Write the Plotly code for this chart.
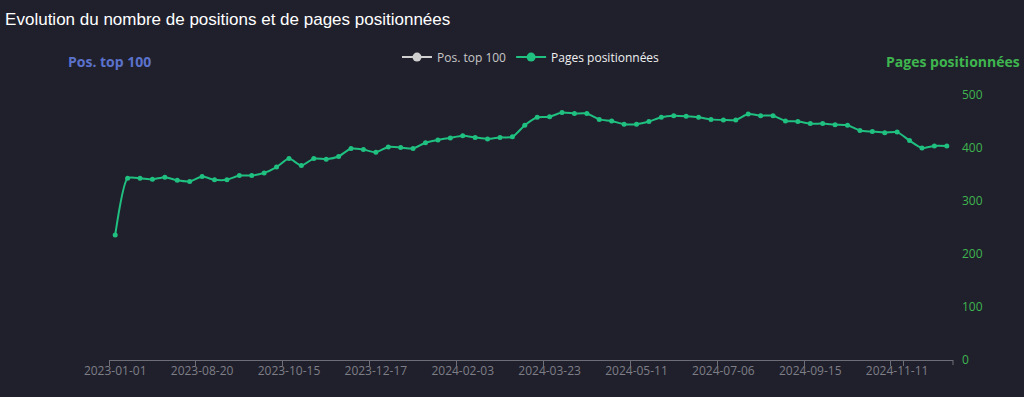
import plotly.graph_objects as go

dates = [
    "2023-01-01", "2023-07-09", "2023-07-16", "2023-07-23", "2023-07-30", "2023-08-06", "2023-08-13",
    "2023-08-20", "2023-08-27", "2023-09-03", "2023-09-10", "2023-09-17", "2023-09-24", "2023-10-08",
    "2023-10-15", "2023-10-22", "2023-10-29", "2023-11-05", "2023-11-19", "2023-11-26", "2023-12-10",
    "2023-12-17", "2023-12-24", "2023-12-31", "2024-01-07", "2024-01-14", "2024-01-21", "2024-01-28",
    "2024-02-03", "2024-02-10", "2024-02-17", "2024-02-24", "2024-03-02", "2024-03-09", "2024-03-16",
    "2024-03-23", "2024-03-30", "2024-04-06", "2024-04-13", "2024-04-20", "2024-04-27", "2024-05-04",
    "2024-05-11", "2024-05-18", "2024-05-25", "2024-06-01", "2024-06-08", "2024-06-15", "2024-06-29",
    "2024-07-06", "2024-07-13", "2024-07-20", "2024-08-03", "2024-08-17", "2024-08-31", "2024-09-08",
    "2024-09-15", "2024-09-22", "2024-09-29", "2024-10-06", "2024-10-13", "2024-10-27", "2024-11-03",
    "2024-11-11", "2024-11-18", "2024-11-25", "2024-12-02", "2024-12-09",
]

pages = [
    236, 343, 343, 341, 345, 339, 337,
    346, 340, 340, 348, 348, 353, 364,
    380, 367, 380, 379, 384, 399, 397,
    392, 402, 401, 399, 410, 415, 419,
    423, 420, 417, 420, 421, 443, 458,
    459, 467, 465, 465, 454, 451, 445,
    445, 450, 458, 461, 460, 458, 454,
    453, 453, 464, 461, 461, 451, 450,
    446, 446, 444, 443, 433, 431, 429,
    430, 414, 400, 404, 404,
]

pos_top100 = [None] * len(dates)

tick_labels = ["2023-01-01", "2023-08-20", "2023-10-15", "2023-12-17", "2024-02-03",
               "2024-03-23", "2024-05-11", "2024-07-06", "2024-09-15", "2024-11-11"]

BG = "#20202c"
GREEN = "#1fc080"
AXGREEN = "#3fb54f"
BLUE = "#5b72cc"

fig = go.Figure()

fig.add_trace(go.Scatter(
    x=dates, y=pos_top100, mode="lines+markers", yaxis="y",
    line=dict(color="#cfcfcf", width=2), marker=dict(size=9, color="#cfcfcf"),
    name="<span style='color:#c8c8c8'>Pos. top 100</span>", showlegend=True,
))
fig.add_trace(go.Scatter(
    x=dates, y=pages, mode="lines+markers", yaxis="y2",
    line=dict(color=GREEN, width=2, shape="spline", smoothing=0.6),
    marker=dict(size=5, color=GREEN),
    name="Pages positionnées", showlegend=False,
))
fig.add_trace(go.Scatter(
    x=[dates[0]], y=[None], mode="lines+markers", yaxis="y2",
    line=dict(color=GREEN, width=2), marker=dict(size=9, color=GREEN),
    name="<span style='color:#f0f0f0'>Pages positionnées</span>", showlegend=True,
))

fig.update_layout(
    width=1024, height=397,
    paper_bgcolor=BG, plot_bgcolor=BG,
    margin=dict(l=109, r=71, t=95, b=37),
    title=dict(text="Evolution du nombre de positions et de pages positionnées",
               x=0.005, xanchor="left", y=0.953, yanchor="middle",
               font=dict(family="Liberation Sans, Arial", size=17, color="#ffffff")),
    font=dict(family="Open Sans, Noto Sans", size=12, color="#8a8a8a"),
    showlegend=True,
    legend=dict(orientation="h", x=0.5, xanchor="center", y=1.143, yanchor="middle",
                bgcolor="rgba(0,0,0,0)", font=dict(size=12, color="#dddddd"),
                itemwidth=30, tracegroupgap=0),
    xaxis=dict(type="category", categoryorder="array", categoryarray=dates,
               range=[-0.5, len(dates) - 0.5],
               tickmode="array", tickvals=tick_labels, ticktext=tick_labels,
               tickson="boundaries", ticks="outside", ticklen=5, tickcolor="#6e6e78",
               tickangle=0,
               showline=True, linecolor="#6e6e78", linewidth=1,
               showgrid=False, zeroline=False,
               tickfont=dict(size=12, color="#7e7e86")),
    yaxis=dict(range=[0, 500], showticklabels=False, showgrid=False, zeroline=False,
               showline=False, ticks=""),
    yaxis2=dict(overlaying="y", side="right", range=[0, 500], dtick=100,
                showgrid=False, zeroline=False, showline=False, ticks="",
                tickfont=dict(size=12, color=AXGREEN), ticklabelstandoff=8),
    annotations=[
        dict(text="<b>Pos. top 100</b>", xref="paper", yref="paper", x=0.0, y=1.125,
             xanchor="center", yanchor="middle", showarrow=False,
             font=dict(family="Open Sans, Noto Sans", size=14, color=BLUE)),
        dict(text="<b>Pages positionnées</b>", xref="paper", yref="paper", x=1.0, y=1.125,
             xanchor="center", yanchor="middle", showarrow=False,
             font=dict(family="Open Sans, Noto Sans", size=14, color=AXGREEN)),
    ],
    shapes=[
        dict(type="line", xref="paper", yref="paper", x0=1, x1=1, y0=0, y1=-0.019,
             line=dict(color="#6e6e78", width=1)),
    ],
)

fig.write_html("out.html", config={"displayModeBar": False},
               post_script="document.body.style.margin='0';")
